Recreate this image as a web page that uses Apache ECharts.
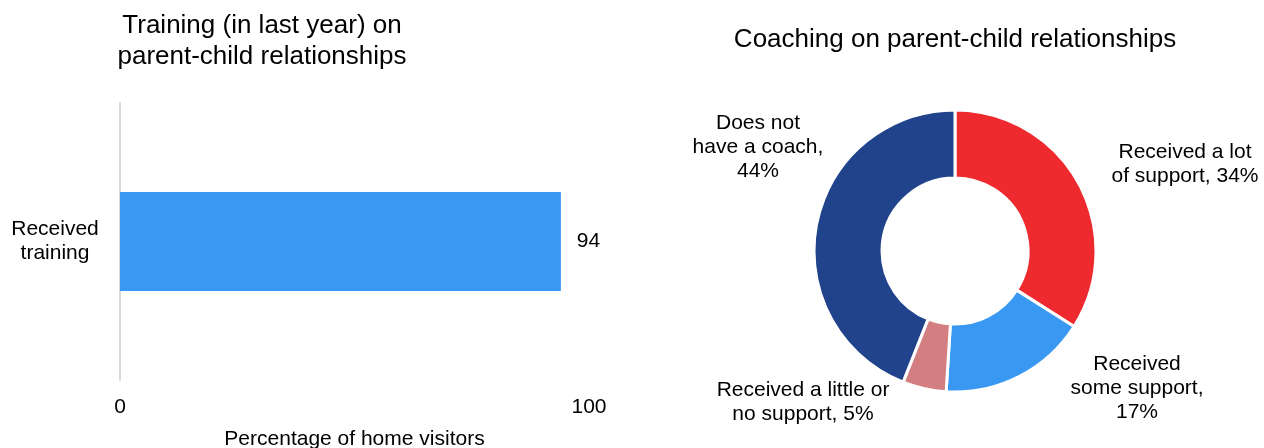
<!DOCTYPE html>
<html>
<head>
<meta charset="utf-8">
<script src="https://cdn.jsdelivr.net/npm/echarts@6/dist/echarts.min.js"></script>
<style>
html,body{margin:0;padding:0;background:#fff;}
#main{width:1264px;height:448px;}
</style>
</head>
<body>
<div id="main"></div>
<script>
// ---- data ----
const barCategories = ['Received\ntraining'];
const barValues = [94];
const xTickValues = [0, 100];
const pieNames = ['Received a lot\nof support', 'Received\nsome support,\n', 'Received a little or\nno support', 'Does not\nhave a coach,\n'];
const pieValues = [34, 17, 5, 44];
const pieColors = ['#EE2A2F', '#3898F2', '#D37F81', '#21438B'];
const barTitle = 'Training (in last year) on\nparent-child relationships';
const pieTitle = 'Coaching on parent-child relationships';
const xAxisName = 'Percentage of home visitors';

const FONT = '"Liberation Sans", Arial, sans-serif';
// label anchor points (text block centres), in px
const pieLabelPos = [[1185, 164], [1137, 388], [803, 402], [758, 147]];

const chart = echarts.init(document.getElementById('main'), null, {renderer: 'canvas'});
const option = {
  animation: false,
  backgroundColor: '#fff',
  textStyle: {fontFamily: FONT},
  title: [
    {text: barTitle, left: 257, top: 5, textAlign: 'center',
     textStyle: {fontFamily: FONT, fontSize: 26, fontWeight: 'normal', color: '#000', lineHeight: 31}},
    {text: pieTitle, left: 950, top: 22, textAlign: 'center',
     textStyle: {fontFamily: FONT, fontSize: 26, fontWeight: 'normal', color: '#000'}}
  ],
  grid: {left: 120, top: 103, width: 469, height: 277, containLabel: false, outerBoundsMode: 'none'},
  xAxis: {
    type: 'value', min: xTickValues[0], max: xTickValues[xTickValues.length - 1], interval: 100,
    axisLine: {show: false}, axisTick: {show: false}, splitLine: {show: false},
    axisLabel: {fontFamily: FONT, fontSize: 21, color: '#000', margin: 17},
    name: xAxisName, nameLocation: 'middle', nameGap: 49,
    nameTextStyle: {fontFamily: FONT, fontSize: 21, color: '#000'}
  },
  yAxis: {
    type: 'category', data: barCategories,
    axisLine: {show: true, lineStyle: {color: '#d9d9d9', width: 2}},
    axisTick: {show: false},
    axisLabel: {fontFamily: FONT, fontSize: 21, color: '#000', align: 'center', margin: 65, lineHeight: 24}
  },
  series: [
    {
      type: 'bar', data: barValues, barWidth: 99,
      itemStyle: {color: '#3898F2'},
      label: {show: true, position: 'right', distance: 16, fontFamily: FONT, fontSize: 21, color: '#000'}
    },
    {
      type: 'pie', center: [955, 251], radius: [73, 141], startAngle: 90, clockwise: true,
      data: pieValues.map((v, i) => ({value: v, name: pieNames[i], itemStyle: {color: pieColors[i]}})),
      itemStyle: {borderColor: '#fff', borderWidth: 3},
      label: {
        show: true, position: 'outside', fontFamily: FONT, fontSize: 21, color: '#000', lineHeight: 24,
        align: 'center', overflow: 'none', width: 300,
        formatter: p => p.name + (p.name.endsWith('\n') ? '' : ', ') + p.value + '%'
      },
      labelLine: {show: false},
      labelLayout: p => ({x: pieLabelPos[p.dataIndex][0], y: pieLabelPos[p.dataIndex][1], align: 'center', verticalAlign: 'middle'}),
      emphasis: {disabled: true}
    }
  ]
};
chart.setOption(option);
</script>
</body>
</html>
